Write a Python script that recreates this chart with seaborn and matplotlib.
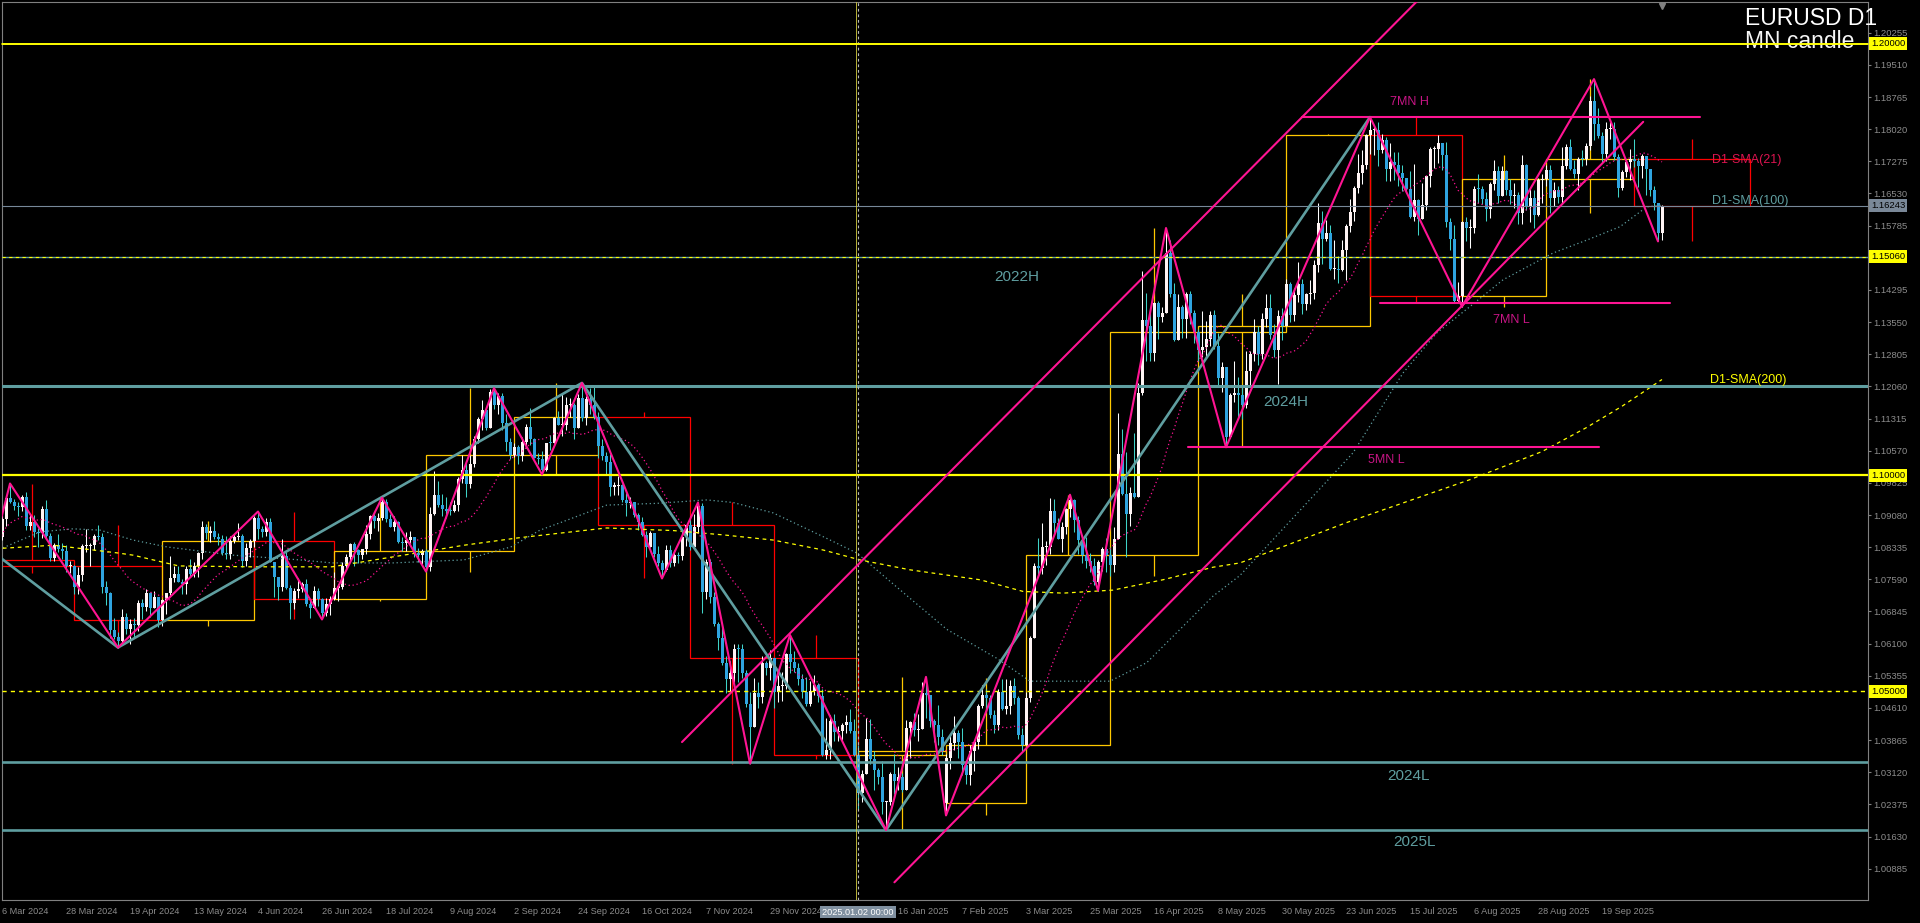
import numpy as np
import pandas as pd
import matplotlib
matplotlib.use("Agg")
import matplotlib.pyplot as plt
import matplotlib.transforms as mtransforms
from matplotlib.patches import Rectangle
import seaborn as sns

# ---------------- DATA (EURUSD daily) ----------------
START_DATE = "2024-03-01"
END_DATE = "2025-10-10"
HOLIDAYS = ["2024-12-25", "2025-01-01"]
FIRST_OPEN = 1.0804
GAP_DATES = ["2025-02-03"]
GAP_OPENS = [1.0241]

close = [
    1.0838, 1.0856, 1.0856, 1.0899, 1.0948, 1.0938, 1.0928, 1.0927, 1.0949, 1.0882, 1.0891, 1.0868, 1.0866, 1.0923, 1.0859, 1.0809, 1.0838, 1.0830, 1.0825, 1.0790, 1.0790,
    1.0741, 1.0769, 1.0836, 1.0836, 1.0838, 1.0859, 1.0856, 1.0742, 1.0728, 1.0642, 1.0625, 1.0617, 1.0671, 1.0644, 1.0656, 1.0654, 1.0703, 1.0696, 1.0728, 1.0693, 1.0718, 1.0665,
    1.0712, 1.0727, 1.0761, 1.0772, 1.0753, 1.0748, 1.0782, 1.0771, 1.0790, 1.0820, 1.0881, 1.0866, 1.0870, 1.0857, 1.0853, 1.0821, 1.0818, 1.0847, 1.0858, 1.0860, 1.0801, 1.0832, 1.0848,
    1.0902, 1.0875, 1.0868, 1.0892, 1.0800, 1.0765, 1.0741, 1.0813, 1.0739, 1.0703, 1.0733, 1.0736, 1.0748, 1.0701, 1.0692, 1.0733, 1.0714, 1.0681, 1.0701, 1.0714,
    1.0740, 1.0742, 1.0790, 1.0810, 1.0840, 1.0826, 1.0815, 1.0829, 1.0865, 1.0906, 1.0894, 1.0902, 1.0938, 1.0898, 1.0881, 1.0892, 1.0846, 1.0844, 1.0849, 1.0857, 1.0819, 1.0815, 1.0825,
    1.0788, 1.0910, 1.0955, 1.0931, 1.0923, 1.0918, 1.0917, 1.0932, 1.0992, 1.1012, 1.0981, 1.1027, 1.1085, 1.1130, 1.1152, 1.1110, 1.1193, 1.1163, 1.1184, 1.1121, 1.1077, 1.1047,
    1.1066, 1.1045, 1.1078, 1.1112, 1.1085, 1.1040, 1.1038, 1.1012, 1.1076, 1.1075, 1.1132, 1.1116, 1.1117, 1.1163, 1.1163, 1.1109, 1.1180, 1.1133, 1.1177, 1.1163, 1.1134,
    1.1067, 1.1045, 1.1030, 1.0974, 1.0975, 1.0978, 1.0942, 1.0936, 1.0937, 1.0909, 1.0891, 1.0862, 1.0833, 1.0867, 1.0817, 1.0797, 1.0781, 1.0827, 1.0796, 1.0816, 1.0814, 1.0856, 1.0884,
    1.0833, 1.0880, 1.0930, 1.0729, 1.0800, 1.0718, 1.0656, 1.0624, 1.0565, 1.0529, 1.0541, 1.0598, 1.0597, 1.0543, 1.0471, 1.0416, 1.0495, 1.0487, 1.0565, 1.0553, 1.0577,
    1.0497, 1.0511, 1.0511, 1.0587, 1.0568, 1.0554, 1.0529, 1.0498, 1.0469, 1.0500, 1.0513, 1.0488, 1.0351, 1.0363, 1.0430, 1.0406, 1.0408, 1.0422, 1.0429, 1.0407, 1.0353,
    1.0264, 1.0307, 1.0389, 1.0342, 1.0318, 1.0300, 1.0244, 1.0244, 1.0307, 1.0291, 1.0301, 1.0272, 1.0415, 1.0429, 1.0409, 1.0413, 1.0496, 1.0490, 1.0431, 1.0422, 1.0393, 1.0362,
    1.0345, 1.0379, 1.0404, 1.0382, 1.0329, 1.0306, 1.0362, 1.0381, 1.0465, 1.0492, 1.0484, 1.0445, 1.0422, 1.0497, 1.0458, 1.0466, 1.0512, 1.0484, 1.0398, 1.0375,
    1.0485, 1.0623, 1.0790, 1.0786, 1.0834, 1.0834, 1.0918, 1.0889, 1.0853, 1.0881, 1.0922, 1.0942, 1.0897, 1.0851, 1.0816, 1.0802, 1.0791, 1.0752, 1.0800, 1.0829, 1.0815,
    1.0792, 1.0852, 1.1049, 1.0957, 1.0910, 1.0960, 1.0950, 1.1191, 1.1360, 1.1346, 1.1283, 1.1399, 1.1367, 1.1376, 1.1516, 1.1421, 1.1314, 1.1390, 1.1363, 1.1420, 1.1377, 1.1331,
    1.1290, 1.1298, 1.1315, 1.1371, 1.1300, 1.1225, 1.1250, 1.1089, 1.1185, 1.1190, 1.1187, 1.1162, 1.1242, 1.1280, 1.1331, 1.1282, 1.1363, 1.1387, 1.1325, 1.1291, 1.1369, 1.1347,
    1.1443, 1.1371, 1.1418, 1.1444, 1.1397, 1.1420, 1.1423, 1.1487, 1.1584, 1.1548, 1.1562, 1.1478, 1.1478, 1.1476, 1.1523, 1.1577, 1.1610, 1.1665, 1.1700, 1.1718, 1.1788,
    1.1800, 1.1800, 1.1754, 1.1777, 1.1709, 1.1725, 1.1720, 1.1700, 1.1690, 1.1664, 1.1599, 1.1638, 1.1595, 1.1626, 1.1693, 1.1755, 1.1755, 1.1771, 1.1741, 1.1588, 1.1548, 1.1405, 1.1415,
    1.1587, 1.1572, 1.1574, 1.1664, 1.1663, 1.1641, 1.1616, 1.1675, 1.1706, 1.1648, 1.1705, 1.1661, 1.1647, 1.1650, 1.1608, 1.1718, 1.1622, 1.1642, 1.1602, 1.1685, 1.1686,
    1.1708, 1.1643, 1.1660, 1.1645, 1.1717, 1.1760, 1.1709, 1.1697, 1.1734, 1.1733, 1.1762, 1.1868, 1.1814, 1.1787, 1.1745, 1.1802, 1.1802, 1.1737, 1.1665, 1.1702, 1.1727, 1.1733,
    1.1728, 1.1716, 1.1740, 1.1710, 1.1660, 1.1630, 1.1562, 1.16243,
]
high = [
    1.0840, 1.0868, 1.0868, 1.0909, 1.0951, 1.0981, 1.0944, 1.0938, 1.0954, 1.0961, 1.0907, 1.0909, 1.0878, 1.0929, 1.0942, 1.0866, 1.0843, 1.0865, 1.0842, 1.0838, 1.0802,
    1.0793, 1.0788, 1.0841, 1.0876, 1.0843, 1.0863, 1.0885, 1.0867, 1.0755, 1.0730, 1.0670, 1.0636, 1.0690, 1.0681, 1.0668, 1.0669, 1.0712, 1.0713, 1.0737, 1.0729, 1.0732, 1.0719,
    1.0713, 1.0728, 1.0812, 1.0790, 1.0789, 1.0760, 1.0790, 1.0805, 1.0800, 1.0823, 1.0895, 1.0888, 1.0882, 1.0895, 1.0867, 1.0862, 1.0859, 1.0859, 1.0863, 1.0889, 1.0864, 1.0844, 1.0852,
    1.0905, 1.0916, 1.0883, 1.0902, 1.0902, 1.0775, 1.0765, 1.0853, 1.0823, 1.0745, 1.0738, 1.0761, 1.0752, 1.0760, 1.0712, 1.0744, 1.0738, 1.0716, 1.0715, 1.0721,
    1.0776, 1.0748, 1.0800, 1.0817, 1.0844, 1.0845, 1.0829, 1.0830, 1.0886, 1.0907, 1.0910, 1.0912, 1.0948, 1.0945, 1.0910, 1.0905, 1.0895, 1.0856, 1.0869, 1.0872, 1.0858, 1.0832, 1.0830,
    1.0830, 1.0927, 1.1009, 1.0987, 1.0956, 1.0949, 1.0937, 1.0942, 1.0995, 1.1047, 1.1030, 1.1048, 1.1090, 1.1135, 1.1174, 1.1155, 1.1201, 1.1202, 1.1190, 1.1190, 1.1143, 1.1087,
    1.1075, 1.1070, 1.1089, 1.1120, 1.1155, 1.1086, 1.1051, 1.1056, 1.1073, 1.1093, 1.1135, 1.1148, 1.1189, 1.1181, 1.1180, 1.1168, 1.1189, 1.1214, 1.1183, 1.1203, 1.1209,
    1.1147, 1.1083, 1.1055, 1.1049, 1.0985, 1.0998, 1.0979, 1.0960, 1.0950, 1.0938, 1.0912, 1.0903, 1.0872, 1.0871, 1.0866, 1.0837, 1.0804, 1.0838, 1.0838, 1.0827, 1.0823, 1.0870, 1.0886,
    1.0905, 1.0910, 1.0937, 1.0936, 1.0805, 1.0807, 1.0729, 1.0661, 1.0653, 1.0582, 1.0569, 1.0609, 1.0609, 1.0610, 1.0550, 1.0497, 1.0531, 1.0520, 1.0582, 1.0569, 1.0596,
    1.0560, 1.0538, 1.0545, 1.0589, 1.0630, 1.0593, 1.0565, 1.0540, 1.0532, 1.0523, 1.0537, 1.0518, 1.0505, 1.0437, 1.0444, 1.0446, 1.0418, 1.0425, 1.0445, 1.0458, 1.0436,
    1.0375, 1.0317, 1.0437, 1.0436, 1.0361, 1.0322, 1.0338, 1.0246, 1.0313, 1.0354, 1.0323, 1.0311, 1.0432, 1.0431, 1.0450, 1.0446, 1.0522, 1.0533, 1.0492, 1.0435, 1.0468, 1.0413,
    1.0355, 1.0398, 1.0442, 1.0409, 1.0414, 1.0340, 1.0375, 1.0385, 1.0470, 1.0513, 1.0505, 1.0490, 1.0456, 1.0505, 1.0528, 1.0528, 1.0525, 1.0530, 1.0488, 1.0415,
    1.0497, 1.0627, 1.0797, 1.0854, 1.0889, 1.0847, 1.0947, 1.0946, 1.0902, 1.0892, 1.0924, 1.0955, 1.0945, 1.0906, 1.0862, 1.0858, 1.0820, 1.0809, 1.0803, 1.0835, 1.0855,
    1.0835, 1.0880, 1.1144, 1.1107, 1.1055, 1.0974, 1.1099, 1.1214, 1.1474, 1.1422, 1.1379, 1.1402, 1.1405, 1.1390, 1.1573, 1.1546, 1.1446, 1.1420, 1.1394, 1.1425, 1.1427, 1.1383,
    1.1340, 1.1380, 1.1357, 1.1380, 1.1382, 1.1330, 1.1262, 1.1245, 1.1191, 1.1266, 1.1227, 1.1210, 1.1287, 1.1288, 1.1363, 1.1345, 1.1375, 1.1419, 1.1420, 1.1350, 1.1384, 1.1387,
    1.1454, 1.1448, 1.1434, 1.1495, 1.1455, 1.1422, 1.1452, 1.1499, 1.1632, 1.1613, 1.1592, 1.1580, 1.1546, 1.1509, 1.1545, 1.1582, 1.1641, 1.1670, 1.1745, 1.1754, 1.1790,
    1.1830, 1.1808, 1.1818, 1.1790, 1.1784, 1.1770, 1.1748, 1.1749, 1.1720, 1.1690, 1.1706, 1.1721, 1.1640, 1.1677, 1.1694, 1.1760, 1.1763, 1.1789, 1.1760, 1.1772, 1.1596, 1.1580, 1.1448,
    1.1590, 1.1598, 1.1595, 1.1670, 1.1699, 1.1671, 1.1657, 1.1680, 1.1730, 1.1717, 1.1716, 1.1707, 1.1686, 1.1677, 1.1657, 1.1742, 1.1721, 1.1666, 1.1660, 1.1689, 1.1699,
    1.1720, 1.1719, 1.1680, 1.1670, 1.1760, 1.1768, 1.1780, 1.1730, 1.1738, 1.1754, 1.1770, 1.1879, 1.1918, 1.1851, 1.1795, 1.1819, 1.1819, 1.1818, 1.1745, 1.1708, 1.1734, 1.1755,
    1.1779, 1.1735, 1.1744, 1.1730, 1.1710, 1.1670, 1.1630, 1.1626,
]
low = [
    1.0797, 1.0835, 1.0834, 1.0850, 1.0883, 1.0935, 1.0920, 1.0905, 1.0918, 1.0874, 1.0873, 1.0858, 1.0835, 1.0855, 1.0855, 1.0801, 1.0801, 1.0823, 1.0807, 1.0776, 1.0773,
    1.0725, 1.0724, 1.0756, 1.0822, 1.0791, 1.0826, 1.0851, 1.0727, 1.0699, 1.0622, 1.0620, 1.0601, 1.0614, 1.0632, 1.0610, 1.0623, 1.0640, 1.0666, 1.0685, 1.0672, 1.0692, 1.0649,
    1.0650, 1.0678, 1.0723, 1.0753, 1.0752, 1.0724, 1.0724, 1.0766, 1.0765, 1.0764, 1.0807, 1.0853, 1.0845, 1.0853, 1.0838, 1.0816, 1.0805, 1.0805, 1.0844, 1.0849, 1.0788, 1.0789, 1.0810,
    1.0835, 1.0852, 1.0857, 1.0860, 1.0800, 1.0719, 1.0710, 1.0732, 1.0736, 1.0668, 1.0690, 1.0716, 1.0729, 1.0698, 1.0670, 1.0692, 1.0697, 1.0666, 1.0675, 1.0676,
    1.0710, 1.0709, 1.0737, 1.0783, 1.0803, 1.0790, 1.0797, 1.0805, 1.0817, 1.0853, 1.0879, 1.0872, 1.0897, 1.0891, 1.0880, 1.0872, 1.0844, 1.0825, 1.0825, 1.0840, 1.0811, 1.0800, 1.0795,
    1.0777, 1.0778, 1.0907, 1.0926, 1.0906, 1.0902, 1.0909, 1.0915, 1.0918, 1.0983, 1.0949, 1.0970, 1.1020, 1.1075, 1.1105, 1.1105, 1.1113, 1.1154, 1.1142, 1.1104, 1.1056, 1.1037,
    1.1042, 1.1026, 1.1033, 1.1063, 1.1070, 1.1039, 1.1026, 1.1002, 1.1011, 1.1059, 1.1075, 1.1116, 1.1090, 1.1105, 1.1135, 1.1083, 1.1112, 1.1125, 1.1116, 1.1143, 1.1131,
    1.1040, 1.1036, 1.1004, 1.0952, 1.0954, 1.0955, 1.0938, 1.0905, 1.0924, 1.0903, 1.0873, 1.0860, 1.0811, 1.0834, 1.0811, 1.0790, 1.0761, 1.0779, 1.0788, 1.0791, 1.0797, 1.0804, 1.0837,
    1.0826, 1.0855, 1.0867, 1.0682, 1.0714, 1.0704, 1.0652, 1.0595, 1.0560, 1.0496, 1.0500, 1.0520, 1.0522, 1.0530, 1.0463, 1.0332, 1.0431, 1.0462, 1.0473, 1.0537, 1.0525,
    1.0460, 1.0474, 1.0478, 1.0505, 1.0542, 1.0545, 1.0515, 1.0485, 1.0465, 1.0465, 1.0490, 1.0475, 1.0350, 1.0343, 1.0343, 1.0385, 1.0385, 1.0385, 1.0403, 1.0403, 1.0350,
    1.0226, 1.0242, 1.0311, 1.0332, 1.0272, 1.0284, 1.0215, 1.0178, 1.0237, 1.0262, 1.0270, 1.0266, 1.0276, 1.0346, 1.0395, 1.0385, 1.0412, 1.0438, 1.0417, 1.0381, 1.0375, 1.0352,
    1.0212, 1.0320, 1.0363, 1.0345, 1.0305, 1.0285, 1.0282, 1.0316, 1.0365, 1.0460, 1.0458, 1.0437, 1.0402, 1.0410, 1.0456, 1.0448, 1.0448, 1.0469, 1.0390, 1.0360,
    1.0387, 1.0474, 1.0622, 1.0765, 1.0771, 1.0792, 1.0818, 1.0862, 1.0852, 1.0822, 1.0863, 1.0903, 1.0869, 1.0818, 1.0797, 1.0785, 1.0777, 1.0745, 1.0733, 1.0778, 1.0777,
    1.0767, 1.0777, 1.0854, 1.0955, 1.0811, 1.0882, 1.0948, 1.0950, 1.1187, 1.1264, 1.1265, 1.1265, 1.1315, 1.1355, 1.1378, 1.1414, 1.1311, 1.1320, 1.1317, 1.1319, 1.1350, 1.1307,
    1.1265, 1.1273, 1.1275, 1.1300, 1.1292, 1.1208, 1.1192, 1.1065, 1.1086, 1.1171, 1.1131, 1.1131, 1.1155, 1.1207, 1.1265, 1.1256, 1.1270, 1.1343, 1.1315, 1.1275, 1.1211, 1.1313,
    1.1345, 1.1356, 1.1357, 1.1402, 1.1373, 1.1383, 1.1397, 1.1408, 1.1471, 1.1490, 1.1542, 1.1475, 1.1455, 1.1445, 1.1474, 1.1453, 1.1563, 1.1590, 1.1654, 1.1674, 1.1710,
    1.1745, 1.1742, 1.1716, 1.1746, 1.1682, 1.1683, 1.1685, 1.1670, 1.1658, 1.1654, 1.1597, 1.1590, 1.1556, 1.1594, 1.1615, 1.1667, 1.1711, 1.1724, 1.1707, 1.1575, 1.1521, 1.1401, 1.1400,
    1.1391, 1.1543, 1.1527, 1.1561, 1.1632, 1.1628, 1.1589, 1.1597, 1.1660, 1.1630, 1.1650, 1.1650, 1.1628, 1.1620, 1.1582, 1.1583, 1.1614, 1.1588, 1.1574, 1.1600, 1.1630,
    1.1670, 1.1608, 1.1623, 1.1630, 1.1631, 1.1709, 1.1708, 1.1690, 1.1661, 1.1716, 1.1720, 1.1754, 1.1776, 1.1782, 1.1727, 1.1728, 1.1780, 1.1730, 1.1645, 1.1660, 1.1692, 1.1684,
    1.1714, 1.1668, 1.1688, 1.1650, 1.1646, 1.1614, 1.1542, 1.1545,
]

# 100 / 200 day SMA lines (bar index, price)
sma100_bar = [0.25, 9.5, 17.75, 24.5, 32.75, 41.25, 57.75, 74.5, 82.5, 97.75, 115.5, 127.2, 134.5, 139.5, 151.2, 163.7, 176.2, 182.75, 192.75, 205.25, 213.7, 227, 236.2, 248.7, 257, 277, 286.2, 294.5, 302.75, 309.5, 337.75, 350.25, 358.7, 367, 375.25, 387.75, 396.2, 404.5, 411.2, 415]
sma100_val = [1.0832, 1.0869, 1.0876, 1.0873, 1.0850, 1.0834, 1.0815, 1.0804, 1.0797, 1.0797, 1.0804, 1.0834, 1.0873, 1.0890, 1.0931, 1.0935, 1.0943, 1.0937, 1.0913, 1.0858, 1.0820, 1.0715, 1.0643, 1.0576, 1.0523, 1.0523, 1.0566, 1.0643, 1.0720, 1.0768, 1.1052, 1.1237, 1.1330, 1.1391, 1.1453, 1.1515, 1.1545, 1.1576, 1.1622, 1.1626]
sma200_bar = [0.2, 12.9, 29, 32.75, 44.2, 62, 82.5, 97.75, 115.5, 129, 139.5, 151.2, 167.75, 180.25, 192.75, 205.25, 214.5, 227, 244.5, 255.25, 265.25, 277.75, 290.25, 302.75, 309.5, 336, 367, 385, 396, 405, 415]
sma200_val = [1.0831, 1.0838, 1.0820, 1.0815, 1.0790, 1.0788, 1.0788, 1.0811, 1.0838, 1.0855, 1.0866, 1.0878, 1.0872, 1.0862, 1.0850, 1.0827, 1.0804, 1.0781, 1.0758, 1.0731, 1.0727, 1.0734, 1.0758, 1.0787, 1.0797, 1.0890, 1.0990, 1.1055, 1.1110, 1.1160, 1.1222]

# zigzag pivots (bar index, price)
zz_pink_bar = [-3, 2, 29, 64, 80, 95, 106, 123, 135, 145, 165, 174, 187, 197, 221, 231, 236, 267, 274, 291, 306, 342, 365, 398, 414]
zz_pink_val = [1.0797, 1.0981, 1.0601, 1.0916, 1.0666, 1.0948, 1.0777, 1.1202, 1.1002, 1.1214, 1.0761, 1.0937, 1.0332, 1.0630, 1.0178, 1.0533, 1.0212, 1.0955, 1.0733, 1.1573, 1.1065, 1.1830, 1.1391, 1.1918, 1.1542]
zz_teal_bar = [-47, 29, 145, 221, 342]
zz_teal_val = [1.1139, 1.0601, 1.1214, 1.0178, 1.1830]

# channel lines (bar index, price)
chan_up_bar = [170, 356.5]
chan_up_val = [1.0382, 1.2124]
chan_lo_bar = [223.1, 410.3]
chan_lo_val = [1.0057, 1.1819]

# horizontal segments: 7MN H, 7MN L, 5MN L
seg_names = ["7MN H", "7MN L", "5MN L"]
seg_val = [1.1830, 1.1400, 1.1066]
seg_start = [325, 344.5, 296.5]
seg_end = [424.5, 417, 399.25]

# horizontal levels
level_vals = [1.20000, 1.16243, 1.15060, 1.12060, 1.10000, 1.05000, 1.03350, 1.01780]
level_names = ["1.20", "bid", "2022H", "2024H", "1.10", "1.05", "2024L", "2025L"]

price_ticks = [1.20255, 1.19510, 1.18765, 1.18020, 1.17275, 1.16530, 1.15785, 1.15040, 1.14295,
               1.13550, 1.12805, 1.12060, 1.11315, 1.10570, 1.09825, 1.09080, 1.08335, 1.07590,
               1.06845, 1.06100, 1.05355, 1.04610, 1.03865, 1.03120, 1.02375, 1.01630, 1.00885]
axis_price_labels = ["1.20000", "1.16243", "1.15060", "1.10000", "1.05000"]
axis_price_vals = [1.20000, 1.16243, 1.15060, 1.10000, 1.05000]
date_tick_step = 16
hidden_date_labels = ["23 Dec 2024"]   # covered by the crosshair date box

# ---------------- BUILD ----------------
dates = pd.bdate_range(START_DATE, END_DATE, freq="C", holidays=HOLIDAYS)
n = len(dates)
assert len(close) == n and len(high) == n and len(low) == n, (n, len(close), len(high), len(low))
origin = dates.get_loc(pd.Timestamp("2024-03-06"))
idx = np.arange(n) - origin

c = np.array(close)
o = np.concatenate([[FIRST_OPEN], c[:-1]])
for gd, go in zip(GAP_DATES, GAP_OPENS):
    o[dates.get_loc(pd.Timestamp(gd))] = go
h = np.maximum(np.array(high), np.maximum(o, c))
l = np.minimum(np.array(low), np.minimum(o, c))
df = pd.DataFrame({"date": dates, "i": idx, "open": o, "high": h, "low": l, "close": c})
df["sma21"] = df["close"].rolling(21, min_periods=1).mean()

# ---------------- STYLE ----------------
sns.set_style("dark")
plt.rcParams["font.family"] = ["Liberation Sans", "DejaVu Sans"]
plt.rcParams["axes.facecolor"] = "black"
plt.rcParams["figure.facecolor"] = "black"

FIG_W, FIG_H = 1920, 923
AX_L, AX_R, AX_T, AX_B = 2, 1868, 2, 900
X0_PX, PX_BAR = 2.0, 4.0
Y_REF_PX, Y_REF_P, PX_PER_UNIT = 32.7, 1.20255, 4316.0

fig = plt.figure(figsize=(FIG_W / 100, FIG_H / 100), dpi=100, facecolor="black")
ax = fig.add_axes([AX_L / FIG_W, 1 - AX_B / FIG_H, (AX_R - AX_L) / FIG_W, (AX_B - AX_T) / FIG_H])
ax.set_facecolor("black")
ax.set_xlim((AX_L - X0_PX) / PX_BAR, (AX_R - X0_PX) / PX_BAR)
ax.set_ylim(Y_REF_P - (AX_B - Y_REF_PX) / PX_PER_UNIT, Y_REF_P + (Y_REF_PX - AX_T) / PX_PER_UNIT)
ax.grid(False)

YELLOW = "#FFFF00"
TEAL = "#5F9EA0"
PINK = "#FF1493"
MAGENTA_TXT = "#C71585"
GOLD_BOX = "#FFC800"
RED_BOX = "#FF0000"
BULL_BODY = "#FFF4F4"
BULL_WICK = "#FFFFFF"
BEAR_BODY = "#2FA4E0"
BEAR_WICK = "#3FD3C8"

# ---- monthly candle boxes ----
df["month"] = df["date"].dt.to_period("M")
groups = list(df.groupby("month", sort=True))
for k, (m, g) in enumerate(groups):
    x_left = g["i"].iloc[0]
    x_right = groups[k + 1][1]["i"].iloc[0] if k + 1 < len(groups) else x_left + 29
    mo, mc = g["open"].iloc[0], g["close"].iloc[-1]
    mh, ml = g["high"].max(), g["low"].min()
    col = GOLD_BOX if mc >= mo else RED_BOX
    ax.add_patch(Rectangle((x_left, min(mo, mc)), x_right - x_left, abs(mc - mo),
                           fill=False, edgecolor=col, lw=0.9, zorder=1))
    xm = (x_left + x_right) / 2
    ax.vlines(xm, max(mo, mc), mh, colors=col, lw=0.9, zorder=1)
    ax.vlines(xm, ml, min(mo, mc), colors=col, lw=0.9, zorder=1)

# ---- candles ----
bull = df["close"] >= df["open"]
ax.vlines(df["i"], df["low"], df["high"], colors=np.where(bull, BULL_WICK, BEAR_WICK), lw=0.75, zorder=3)
body_h = np.maximum((df["close"] - df["open"]).abs(), 0.00025)
ax.bar(df["i"], body_h, bottom=np.minimum(df["open"], df["close"]), width=0.75,
       color=np.where(bull, BULL_BODY, BEAR_BODY), linewidth=0, zorder=3.1)

# ---- SMAs ----
ax.plot(df["i"], df["sma21"], color=PINK, lw=0.9, linestyle=(0, (1, 2.2)), zorder=4)
ax.plot(sma100_bar, sma100_val, color=TEAL, lw=0.9, linestyle=(0, (1, 2.2)), zorder=4)
ax.plot(sma200_bar, sma200_val, color=YELLOW, lw=0.9, linestyle=(0, (3, 3)), zorder=4)

# ---- horizontal levels ----
lvl = dict(zip(level_names, level_vals))
ax.axhline(lvl["1.20"], color=YELLOW, lw=1.2, zorder=5)
ax.axhline(lvl["1.10"], color=YELLOW, lw=1.6, zorder=5)
ax.axhline(lvl["1.05"], color=YELLOW, lw=1.0, linestyle=(0, (3, 3)), zorder=5)
ax.axhline(lvl["2022H"], color=TEAL, lw=1.0, zorder=5)
ax.axhline(lvl["2022H"], color=YELLOW, lw=0.8, linestyle=(0, (3, 3)), zorder=5.1)
ax.axhline(lvl["2024H"], color=TEAL, lw=2.2, zorder=5)
ax.axhline(lvl["2024L"], color=TEAL, lw=1.9, zorder=5)
ax.axhline(lvl["2025L"], color=TEAL, lw=1.9, zorder=5)
ax.axhline(lvl["bid"], color="#778899", lw=0.8, zorder=5)

# crosshair / separator at 2025.01.02
jan2 = df.loc[df["date"] == pd.Timestamp("2025-01-02"), "i"].iloc[0]
ax.axvline(jan2 - 0.55, color="#D8D040", lw=0.6, zorder=5)
ax.axvline(jan2, color="#B8B8B8", lw=0.8, linestyle=(0, (2.5, 2.5)), zorder=5)

# ---- month range segments ----
for nm, v, s, e in zip(seg_names, seg_val, seg_start, seg_end):
    sns.lineplot(x=[s, e], y=[v, v], ax=ax, color=PINK, lw=1.5, zorder=6, legend=False)

# ---- channel ----
sns.lineplot(x=chan_up_bar, y=chan_up_val, ax=ax, color=PINK, lw=1.5, zorder=6, legend=False)
sns.lineplot(x=chan_lo_bar, y=chan_lo_val, ax=ax, color=PINK, lw=1.5, zorder=6, legend=False)

# ---- zigzags ----
sns.lineplot(x=zz_teal_bar, y=zz_teal_val, ax=ax, color=TEAL, lw=1.9, zorder=6, legend=False, sort=False)
sns.lineplot(x=zz_pink_bar, y=zz_pink_val, ax=ax, color=PINK, lw=1.5, zorder=6.1, legend=False, sort=False)

# ---- labels ----
ax.text(248, 1.1460, "2022H", color=TEAL, fontsize=11, va="center", ha="left", zorder=7)
ax.text(315.3, 1.1170, "2024H", color=TEAL, fontsize=11, va="center", ha="left", zorder=7)
ax.text(346.3, 1.0303, "2024L", color=TEAL, fontsize=11, va="center", ha="left", zorder=7)
ax.text(347.8, 1.0150, "2025L", color=TEAL, fontsize=11, va="center", ha="left", zorder=7)
ax.text(347, 1.1865, "7MN H", color=MAGENTA_TXT, fontsize=9, va="center", ha="left", zorder=7)
ax.text(372.8, 1.1360, "7MN L", color=MAGENTA_TXT, fontsize=9, va="center", ha="left", zorder=7)
ax.text(341.5, 1.1036, "5MN L", color=MAGENTA_TXT, fontsize=9, va="center", ha="left", zorder=7)
ax.text(427.5, 1.1730, "D1-SMA(21)", color="#DC1450", fontsize=9, va="center", ha="left", zorder=7)
ax.text(427.5, 1.1635, "D1-SMA(100)", color=TEAL, fontsize=9, va="center", ha="left", zorder=7)
ax.text(427.0, 1.1221, "D1-SMA(200)", color=YELLOW, fontsize=9, va="center", ha="left", zorder=7)

fig.text(1745 / FIG_W, 1 - 25 / FIG_H, "EURUSD D1", color="white", fontsize=16.5, va="baseline", ha="left")
fig.text(1745 / FIG_W, 1 - 48.5 / FIG_H, "MN candle", color="#F5F5F5", fontsize=16.5, va="baseline", ha="left", zorder=1)
fig.add_artist(plt.Line2D([AX_L / FIG_W, AX_R / FIG_W], [1 - 43.7 / FIG_H] * 2, color=YELLOW, lw=1.2, zorder=5))

# chart-shift marker at top
ax.plot([df["i"].max()], [1 - 4.0 / (AX_B - AX_T)], marker="v", ms=5, color="#808080",
        transform=mtransforms.blended_transform_factory(ax.transData, ax.transAxes), clip_on=False, zorder=8)

# ---- axes ----
for sp in ax.spines.values():
    sp.set_color("#808080")
    sp.set_linewidth(0.8)
ax.yaxis.tick_right()
ax.set_yticks(price_ticks)
ax.set_yticklabels([f"{t:.5f}" for t in price_ticks])
ax.tick_params(axis="y", colors="#808080", labelcolor="#8C8C8C", length=2.2, width=0.8, pad=1.5, labelsize=6.8)

tick_pos = list(range(0, int(df["i"].max()) - 10, date_tick_step))
tick_lab = []
for p in tick_pos:
    d = df.loc[df["i"] == p, "date"].iloc[0]
    s = f"{d.day} {d.strftime('%b %Y')}"
    tick_lab.append("" if s in hidden_date_labels else s)
ax.set_xticks(tick_pos)
ax.set_xticklabels(tick_lab, ha="left")
ax.tick_params(axis="x", colors="#808080", labelcolor="#8C8C8C", length=2.9, width=0.8, pad=2.2, labelsize=6.6)

blend = mtransforms.blended_transform_factory(ax.transAxes, ax.transData)
for txt, v in zip(axis_price_labels, axis_price_vals):
    if txt == "1.16243":
        fc, tc = "#7A8898", "#000000"
    else:
        fc, tc = YELLOW, "#000000"
    ax.text(1.0016, v, txt, transform=blend, fontsize=6.8, color=tc, va="center", ha="left",
            bbox=dict(boxstyle="square,pad=0.22", fc=fc, ec="none"), clip_on=False, zorder=20)

blend_x = mtransforms.blended_transform_factory(ax.transData, ax.transAxes)
ax.text(jan2, -0.0134, "2025.01.02 00:00", transform=blend_x, fontsize=6.6, color="#FFFFFF",
        va="center", ha="center", bbox=dict(boxstyle="square,pad=0.2", fc="#8090A0", ec="none"),
        clip_on=False, zorder=20)

fig.savefig("out.png", dpi=100, facecolor="black")
